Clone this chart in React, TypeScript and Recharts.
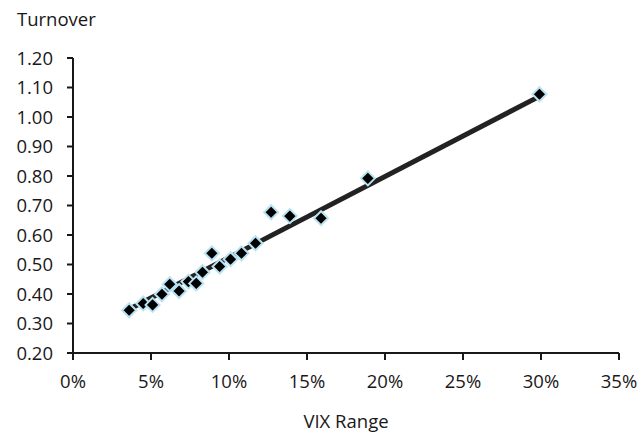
import { ScatterChart, Scatter, XAxis, YAxis } from "recharts";

// VIX range (%) vs turnover
const vixRange = [
  3.6, 4.5, 5.1, 5.7, 6.2, 6.8, 7.4, 7.9, 8.3, 8.9, 9.4, 10.1, 10.8, 11.7, 12.7, 13.9, 15.9, 18.9, 29.9,
];
const turnover = [
  0.345, 0.368, 0.363, 0.399, 0.433, 0.41, 0.442, 0.436, 0.474, 0.538, 0.493, 0.518, 0.538, 0.572, 0.677,
  0.664, 0.657, 0.792, 1.077,
];
// fitted trend line end points
const trendX = [3.6, 29.9];
const trendY = [0.348, 1.07];

const xTicks = [0, 5, 10, 15, 20, 25, 30, 35];
const yTicks = [0.2, 0.3, 0.4, 0.5, 0.6, 0.7, 0.8, 0.9, 1.0, 1.1, 1.2];

const points = vixRange.map((x, i) => ({ x, y: turnover[i] }));
const trend = trendX.map((x, i) => ({ x, y: trendY[i] }));

const FONT = "'Open Sans', sans-serif";
const INK = "#1a1718";
const FS = 18.5;

function Diamond(props: any) {
  const { cx, cy } = props;
  const r = 7;
  return (
    <path
      d={`M${cx},${cy - r}L${cx + r},${cy}L${cx},${cy + r}L${cx - r},${cy}Z`}
      fill="#000"
      stroke="#b9e3f3"
      strokeWidth={2}
    />
  );
}

export default function App() {
  return (
    <div style={{ position: "absolute", left: 0, top: 0, width: 643, height: 434, background: "#fff", fontFamily: FONT }}>
      <div style={{ position: "absolute", left: 17, top: 6, fontSize: FS, color: INK }}>Turnover</div>
      <div style={{ position: "absolute", left: 0, width: 692, top: 408, textAlign: "center", fontSize: FS, color: INK }}>
        VIX Range
      </div>
      <ScatterChart width={643} height={434} margin={{ top: 58, right: 24, bottom: 51, left: 0 }}>
        <XAxis
          type="number"
          dataKey="x"
          domain={[0, 35]}
          ticks={xTicks}
          tickFormatter={(v) => `${v}%`}
          height={30}
          tickSize={7}
          tickMargin={15}
          axisLine={{ stroke: INK, strokeWidth: 2 }}
          tickLine={{ stroke: INK, strokeWidth: 2 }}
          tick={{ fill: INK, fontSize: FS, fontFamily: FONT }}
          allowDataOverflow
        />
        <YAxis
          type="number"
          dataKey="y"
          domain={[0.2, 1.2]}
          ticks={yTicks}
          tickFormatter={(v) => v.toFixed(2)}
          width={73}
          tickSize={6}
          tickMargin={14}
          axisLine={{ stroke: INK, strokeWidth: 2 }}
          tickLine={{ stroke: INK, strokeWidth: 2 }}
          tick={{ fill: INK, fontSize: FS, fontFamily: FONT }}
          allowDataOverflow
        />
        <Scatter
          data={trend}
          line={{ stroke: "#222", strokeWidth: 5 }}
          shape={() => <g />}
          isAnimationActive={false}
        />
        <Scatter data={points} shape={Diamond} isAnimationActive={false} />
      </ScatterChart>
    </div>
  );
}
